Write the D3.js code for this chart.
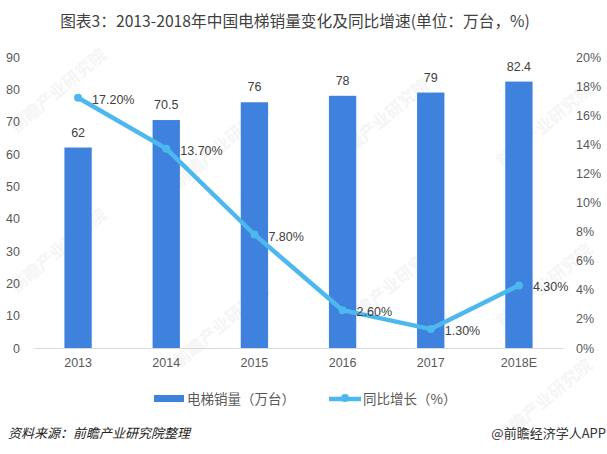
<!DOCTYPE html>
<html>
<head>
<meta charset="utf-8">
<script src="https://cdn.jsdelivr.net/npm/d3@7"></script>
<style>
  html, body { margin: 0; padding: 0; background: #fff; }
  text { font-family: "Noto Sans CJK SC", "Liberation Sans", sans-serif; }
</style>
</head>
<body>
<div id="graph"></div>
<script>
const years = ['2013', '2014', '2015', '2016', '2017', '2018E'];
const sales = [62, 70.5, 76, 78, 79, 82.4];
const growth = [17.2, 13.7, 7.8, 2.6, 1.3, 4.3];
const salesLabels = ['62', '70.5', '76', '78', '79', '82.4'];
const growthLabels = ['17.20%', '13.70%', '7.80%', '2.60%', '1.30%', '4.30%'];
const leftTicks = [0, 10, 20, 30, 40, 50, 60, 70, 80, 90];
const rightTicks = [0, 2, 4, 6, 8, 10, 12, 14, 16, 18, 20];
const watermarks = [[62, 95], [225, 150], [62, 255], [225, 330], [385, 125], [395, 290], [548, 130], [548, 290], [548, 405]];

const width = 607, height = 454;
const textColor = '#595959';

const svg = d3.select('#graph')
  .append('svg')
    .attr('width', width)
    .attr('height', height)
    .style('display', 'block');

const x = d3.scaleBand().domain(years).range([34, 563]).paddingInner(0.69).paddingOuter(0.345);
const yLeft = d3.scaleLinear().domain([0, 90]).range([348, 57]);
const yRight = d3.scaleLinear().domain([0, 20]).range([348, 57]);
const center = (d) => x(d) + x.bandwidth() / 2;

// faint watermarks sit behind the marks
svg.selectAll('.mark')
   .data(watermarks)
   .enter()
     .append('text')
     .classed('mark', true)
     .attr('transform', (d) => `translate(${d[0]},${d[1]}) rotate(-40)`)
     .attr('text-anchor', 'middle')
     .attr('font-size', 17)
     .attr('font-weight', 'bold')
     .attr('fill', '#f5f5f5')
     .text('前瞻产业研究院');

svg.append('text')
   .attr('x', 295)
   .attr('y', 27)
   .attr('text-anchor', 'middle')
   .attr('font-size', 15.7)
   .attr('fill', '#404040')
   .text('图表3：2013-2018年中国电梯销量变化及同比增速(单位：万台，%)');

// axes
const xAxis = svg.append('g')
  .attr('transform', 'translate(0,348)')
  .call(d3.axisBottom(x).tickSize(0).tickPadding(10));
const leftAxis = svg.append('g')
  .attr('transform', 'translate(20,0)')
  .call(d3.axisLeft(yLeft).tickValues(leftTicks).tickSize(0).tickPadding(0));
const rightAxis = svg.append('g')
  .attr('transform', 'translate(576,0)')
  .call(d3.axisRight(yRight).tickValues(rightTicks).tickFormat((d) => d + '%').tickSize(0).tickPadding(0));

leftAxis.select('.domain').remove();
rightAxis.select('.domain').remove();
xAxis.select('.domain').attr('stroke', '#d9d9d9');
[xAxis, leftAxis, rightAxis].forEach((a) => {
  a.selectAll('text')
   .attr('font-size', 12.5)
   .attr('fill', textColor)
   .style('font-family', '"Liberation Sans", sans-serif');
});

// bars
svg.selectAll('.bar')
   .data(years)
   .enter()
     .append('rect')
     .classed('bar', true)
     .attr('x', (d) => x(d))
     .attr('width', x.bandwidth())
     .attr('y', (d, i) => yLeft(sales[i]))
     .attr('height', (d, i) => yLeft(0) - yLeft(sales[i]))
     .attr('fill', '#3f82de');

svg.selectAll('.barLabel')
   .data(years)
   .enter()
     .append('text')
     .classed('barLabel', true)
     .attr('x', (d) => center(d))
     .attr('y', (d, i) => yLeft(sales[i]) - 11)
     .attr('text-anchor', 'middle')
     .attr('font-size', 12.5)
     .attr('fill', '#404040')
     .style('font-family', '"Liberation Sans", sans-serif')
     .text((d, i) => salesLabels[i]);

// growth line
const line = d3.line()
  .x((d) => center(d))
  .y((d, i) => yRight(growth[i]));

svg.append('path')
   .datum(years)
   .attr('d', line)
   .attr('fill', 'none')
   .attr('stroke', '#4db8ee')
   .attr('stroke-width', 4.5)
   .attr('stroke-linejoin', 'round');

svg.selectAll('.dot')
   .data(years)
   .enter()
     .append('circle')
     .classed('dot', true)
     .attr('cx', (d) => center(d))
     .attr('cy', (d, i) => yRight(growth[i]))
     .attr('r', 4)
     .attr('fill', '#4db8ee');

svg.selectAll('.lineLabel')
   .data(years)
   .enter()
     .append('text')
     .classed('lineLabel', true)
     .attr('x', (d) => center(d) + 14)
     .attr('y', (d, i) => yRight(growth[i]) + 6)
     .attr('font-size', 12.5)
     .attr('fill', '#404040')
     .style('font-family', '"Liberation Sans", sans-serif')
     .text((d, i) => growthLabels[i]);

// legend
const legend = svg.append('g');
legend.append('rect')
   .attr('x', 154).attr('y', 395).attr('width', 30).attr('height', 7)
   .attr('fill', '#3f82de');
legend.append('text')
   .attr('x', 187).attr('y', 404)
   .attr('font-size', 13.5).attr('fill', textColor)
   .text('电梯销量（万台）');
legend.append('line')
   .attr('x1', 329).attr('x2', 361).attr('y1', 399).attr('y2', 399)
   .attr('stroke', '#4db8ee').attr('stroke-width', 4.5);
legend.append('circle')
   .attr('cx', 345).attr('cy', 398).attr('r', 4)
   .attr('fill', '#4db8ee');
legend.append('text')
   .attr('x', 363).attr('y', 404)
   .attr('font-size', 13.5).attr('fill', textColor)
   .text('同比增长（%）');

// footer
svg.append('text')
   .attr('x', 8).attr('y', 438)
   .attr('font-size', 13).attr('font-style', 'italic').attr('fill', '#222')
   .text('资料来源：前瞻产业研究院整理');
svg.append('text')
   .attr('x', 606).attr('y', 438)
   .attr('text-anchor', 'end')
   .attr('font-size', 13).attr('fill', '#333')
   .text('@前瞻经济学人APP');
</script>
</body>
</html>
